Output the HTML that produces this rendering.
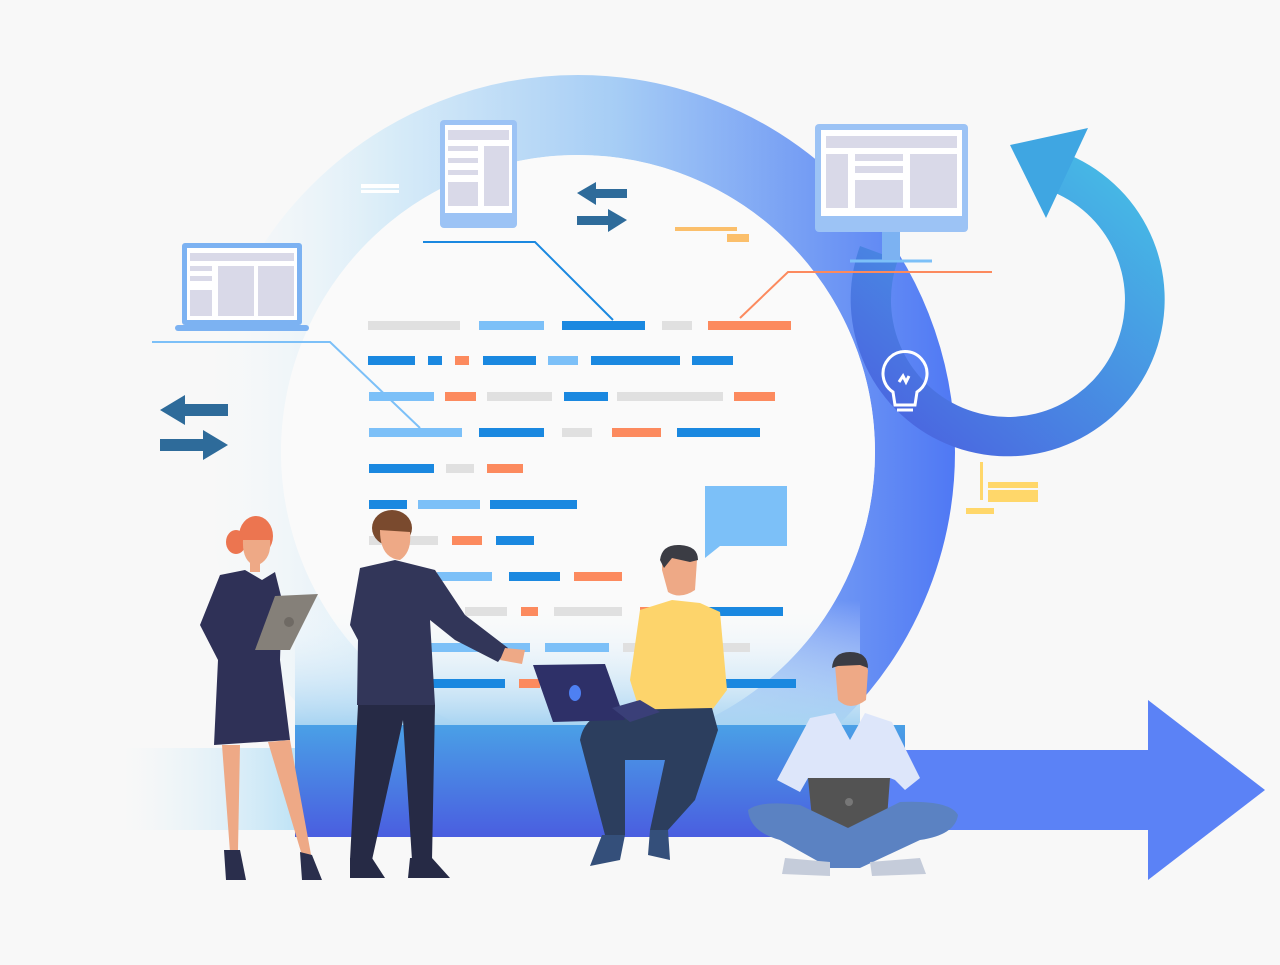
<!DOCTYPE html>
<html><head><meta charset="utf-8"><style>html,body{margin:0;padding:0;background:#f8f8f8}svg{display:block}</style></head>
<body>
<svg width="1280" height="965" viewBox="0 0 1280 965" xmlns="http://www.w3.org/2000/svg">
<defs>
<linearGradient id="ring" x1="200" y1="0" x2="956" y2="0" gradientUnits="userSpaceOnUse">
<stop offset="0" stop-color="#f3f9fc" stop-opacity="0"/>
<stop offset="0.25" stop-color="#d8ecf8"/>
<stop offset="0.55" stop-color="#a6cdf5"/>
<stop offset="1" stop-color="#4f78f4"/>
</linearGradient>
<linearGradient id="loop" x1="900" y1="450" x2="1150" y2="150" gradientUnits="userSpaceOnUse">
<stop offset="0" stop-color="#4b62e0"/><stop offset="1" stop-color="#45c3e6"/>
</linearGradient>
<linearGradient id="bar" x1="0" y1="725" x2="0" y2="837" gradientUnits="userSpaceOnUse">
<stop offset="0" stop-color="#4aa0e6"/><stop offset="1" stop-color="#4a5ee0"/>
</linearGradient>
<linearGradient id="left" x1="120" y1="0" x2="295" y2="0" gradientUnits="userSpaceOnUse">
<stop offset="0" stop-color="#e8f4fb" stop-opacity="0"/><stop offset="1" stop-color="#bfe3f6"/>
</linearGradient>
<linearGradient id="fade" x1="0" y1="600" x2="0" y2="725" gradientUnits="userSpaceOnUse">
<stop offset="0" stop-color="#ffffff" stop-opacity="0"/><stop offset="1" stop-color="#a8d4f2"/>
</linearGradient>
</defs>
<rect width="1280" height="965" fill="#f8f8f8"/>
<circle cx="578" cy="452" r="337" fill="none" stroke="url(#ring)" stroke-width="80"/>
<circle cx="578" cy="452" r="297" fill="#fafafa"/>
<path d="M860 246 A157 157 0 1 0 1062 152 L1048 190 A117 117 0 1 1 898 260 Z" fill="url(#loop)"/>
<polygon points="1010,145 1088,128 1046,218" fill="#3fa6e2"/>
<rect x="120" y="748" width="178" height="82" fill="url(#left)"/>
<path d="M295 600 H860 L860 725 H295 Z" fill="url(#fade)"/>
<rect x="295" y="725" width="610" height="112" fill="url(#bar)"/>
<rect x="880" y="750" width="272" height="80" fill="#5b82f6"/>
<polygon points="1148,700 1265,790 1148,880" fill="#5b82f6"/>
<polyline points="152,342 330,342 420,428" fill="none" stroke="#7cc0f8" stroke-width="2"/>
<polyline points="423,242 535,242 613,320" fill="none" stroke="#1a88e0" stroke-width="2"/>
<polyline points="740,318 788,272 992,272" fill="none" stroke="#fc8a5e" stroke-width="2"/>
<line x1="850" y1="261" x2="932" y2="261" stroke="#7cc0f8" stroke-width="3"/>
<g>
<rect x="368" y="321" width="92" height="9" fill="#e0e0e0"/><rect x="479" y="321" width="65" height="9" fill="#7cc0f8"/><rect x="562" y="321" width="83" height="9" fill="#1a88e0"/><rect x="662" y="321" width="30" height="9" fill="#e0e0e0"/><rect x="708" y="321" width="83" height="9" fill="#fc8a5e"/>
<rect x="368" y="356" width="47" height="9" fill="#1a88e0"/><rect x="428" y="356" width="14" height="9" fill="#1a88e0"/><rect x="455" y="356" width="14" height="9" fill="#fc8a5e"/><rect x="483" y="356" width="53" height="9" fill="#1a88e0"/><rect x="548" y="356" width="30" height="9" fill="#7cc0f8"/><rect x="591" y="356" width="89" height="9" fill="#1a88e0"/><rect x="692" y="356" width="41" height="9" fill="#1a88e0"/>
<rect x="369" y="392" width="65" height="9" fill="#7cc0f8"/><rect x="445" y="392" width="31" height="9" fill="#fc8a5e"/><rect x="487" y="392" width="65" height="9" fill="#e0e0e0"/><rect x="564" y="392" width="44" height="9" fill="#1a88e0"/><rect x="617" y="392" width="106" height="9" fill="#e0e0e0"/><rect x="734" y="392" width="41" height="9" fill="#fc8a5e"/>
<rect x="369" y="428" width="93" height="9" fill="#7cc0f8"/><rect x="479" y="428" width="65" height="9" fill="#1a88e0"/><rect x="562" y="428" width="30" height="9" fill="#e0e0e0"/><rect x="612" y="428" width="49" height="9" fill="#fc8a5e"/><rect x="677" y="428" width="83" height="9" fill="#1a88e0"/>
<rect x="369" y="464" width="65" height="9" fill="#1a88e0"/><rect x="446" y="464" width="28" height="9" fill="#e0e0e0"/><rect x="487" y="464" width="36" height="9" fill="#fc8a5e"/>
<rect x="369" y="500" width="38" height="9" fill="#1a88e0"/><rect x="418" y="500" width="62" height="9" fill="#7cc0f8"/><rect x="490" y="500" width="87" height="9" fill="#1a88e0"/>
<rect x="369" y="536" width="69" height="9" fill="#e0e0e0"/><rect x="452" y="536" width="30" height="9" fill="#fc8a5e"/><rect x="496" y="536" width="38" height="9" fill="#1a88e0"/>
<rect x="437" y="572" width="55" height="9" fill="#7cc0f8"/><rect x="509" y="572" width="51" height="9" fill="#1a88e0"/><rect x="574" y="572" width="48" height="9" fill="#fc8a5e"/>
<rect x="465" y="607" width="42" height="9" fill="#e0e0e0"/><rect x="521" y="607" width="17" height="9" fill="#fc8a5e"/><rect x="554" y="607" width="68" height="9" fill="#e0e0e0"/><rect x="640" y="607" width="20" height="9" fill="#fc8a5e"/><rect x="700" y="607" width="83" height="9" fill="#1a88e0"/>
<rect x="430" y="643" width="100" height="9" fill="#7cc0f8"/><rect x="545" y="643" width="64" height="9" fill="#7cc0f8"/><rect x="623" y="643" width="127" height="9" fill="#e0e0e0"/>
<rect x="430" y="679" width="75" height="9" fill="#1a88e0"/><rect x="519" y="679" width="21" height="9" fill="#fc8a5e"/><rect x="725" y="679" width="71" height="9" fill="#1a88e0"/>
</g>
<rect x="361" y="184" width="38" height="4" fill="#fff"/><rect x="361" y="190" width="38" height="3" fill="#fff"/>
<rect x="675" y="227" width="62" height="4" fill="#fbbf6b"/><rect x="727" y="234" width="22" height="8" fill="#fbbf6b"/>
<rect x="980" y="462" width="3" height="38" fill="#ffd76a"/><rect x="988" y="482" width="50" height="6" fill="#ffd76a"/><rect x="988" y="490" width="50" height="12" fill="#ffd76a"/><rect x="966" y="508" width="28" height="6" fill="#ffd76a"/>
<g fill="#2e6b9a">
<polygon points="160,410 185,395 185,404 228,404 228,416 185,416 185,425"/>
<polygon points="228,445 203,430 203,439 160,439 160,451 203,451 203,460"/>
<polygon points="577,193 596,182 596,189 627,189 627,198 596,198 596,205"/>
<polygon points="627,220 608,209 608,216 577,216 577,225 608,225 608,232"/>
</g>
<path d="M705 486 H787 V546 H720 L705 558 Z" fill="#7cc0f8"/>
<g fill="none" stroke="#fff" stroke-width="3">
<path d="M893 392 A22 22 0 1 1 917 392 L915 405 H895 Z"/>
<path d="M897 410 H913 M899 382 L903 376 L906 382 L909 376"/>
</g>
<rect x="182" y="243" width="120" height="82" rx="3" fill="#7cb2f2"/>
<rect x="187" y="248" width="110" height="72" fill="#fff"/>
<rect x="190" y="253" width="104" height="8" fill="#d9d9e8"/>
<rect x="218" y="266" width="36" height="50" fill="#d9d9e8"/><rect x="258" y="266" width="36" height="50" fill="#d9d9e8"/>
<rect x="190" y="266" width="22" height="5" fill="#d9d9e8"/><rect x="190" y="276" width="22" height="5" fill="#d9d9e8"/><rect x="190" y="290" width="22" height="26" fill="#d9d9e8"/>
<rect x="175" y="325" width="134" height="6" rx="3" fill="#7cb2f2"/>
<rect x="440" y="120" width="77" height="108" rx="4" fill="#9cc3f5"/>
<rect x="445" y="125" width="67" height="88" fill="#fff"/>
<rect x="448" y="130" width="61" height="10" fill="#d9d9e8"/>
<rect x="448" y="146" width="30" height="5" fill="#d9d9e8"/><rect x="448" y="158" width="30" height="5" fill="#d9d9e8"/><rect x="448" y="170" width="30" height="5" fill="#d9d9e8"/><rect x="448" y="182" width="30" height="24" fill="#d9d9e8"/>
<rect x="484" y="146" width="25" height="60" fill="#d9d9e8"/>
<rect x="882" y="228" width="18" height="32" fill="#7cb2f2"/>
<rect x="815" y="124" width="153" height="108" rx="4" fill="#9cc3f5"/>
<rect x="821" y="130" width="141" height="86" fill="#fff"/>
<rect x="826" y="136" width="131" height="12" fill="#d9d9e8"/>
<rect x="826" y="154" width="22" height="54" fill="#d9d9e8"/><rect x="855" y="154" width="48" height="7" fill="#d9d9e8"/><rect x="855" y="166" width="48" height="7" fill="#d9d9e8"/><rect x="855" y="180" width="48" height="28" fill="#d9d9e8"/><rect x="910" y="154" width="47" height="54" fill="#d9d9e8"/>
<g>
<ellipse cx="236" cy="542" rx="10" ry="12" fill="#ec7550"/>
<ellipse cx="256" cy="536" rx="17" ry="20" fill="#ec7550"/>
<path d="M243 540 Q242 562 256 566 Q272 560 270 540 Z" fill="#eea986"/>
<rect x="250" y="560" width="10" height="12" fill="#eea986"/>
<path d="M220 575 L245 570 L262 580 L275 572 L282 600 L280 660 L290 740 L214 745 L218 660 L200 625 Z" fill="#2f3157"/>
<path d="M222 745 L240 745 L238 850 L230 852 Z M268 742 L290 740 L312 860 L304 862 Z" fill="#eea986"/>
<path d="M224 850 L240 850 L246 880 L226 880 Z M300 852 L312 855 L322 880 L302 880 Z" fill="#2a2e4c"/>
<path d="M275 596 L318 594 L290 650 L255 650 Z" fill="#858079"/>
<circle cx="289" cy="622" r="5" fill="#6f6a64"/>
</g>
<g>
<ellipse cx="392" cy="528" rx="20" ry="18" fill="#7a4a2e"/>
<path d="M380 530 Q380 558 400 560 Q412 552 410 532 Z" fill="#eea986"/>
<path d="M360 568 L395 560 L435 570 L465 615 L508 648 L498 662 L455 640 L430 620 L435 705 L357 705 L358 640 L350 625 Z" fill="#323659"/>
<path d="M505 648 L525 650 L522 664 L500 660 Z" fill="#eea986"/>
<path d="M358 705 L435 705 L432 860 L412 860 L403 720 L372 860 L350 860 Z" fill="#262a45"/>
<path d="M350 858 L372 858 L385 878 L350 878 Z M410 858 L432 858 L450 878 L408 878 Z" fill="#262a45"/>
</g>
<g>
<path d="M662 555 Q670 545 690 548 L697 560 L695 590 Q680 600 668 592 L662 570 Z" fill="#eea986"/>
<path d="M660 560 Q662 544 680 545 Q698 546 698 560 L690 562 L672 558 L664 568 Z" fill="#3b3c44"/>
<path d="M640 610 L672 600 L700 603 L720 612 L727 690 L712 710 L640 712 L630 680 Z" fill="#fdd46b"/>
<path d="M580 740 Q585 712 620 710 L712 708 L718 730 L695 800 L668 830 L650 830 L665 760 L625 760 L625 835 L605 835 Z" fill="#2c3e5e"/>
<path d="M602 835 L625 835 L620 860 L590 866 Z M650 830 L668 830 L670 860 L648 855 Z" fill="#344f7a"/>
<path d="M533 665 L605 664 L625 720 L553 722 Z" fill="#2e3068"/>
<ellipse cx="575" cy="693" rx="6" ry="8" fill="#4e80f2"/>
<path d="M612 708 L640 700 L660 712 L630 722 Z" fill="#3a3f78"/>
</g>
<g>
<path d="M835 665 Q845 652 862 656 L868 670 L866 700 Q850 712 838 700 Z" fill="#eea986"/>
<path d="M832 668 Q833 652 850 652 Q868 652 868 668 L860 665 L838 666 Z" fill="#3b3c44"/>
<path d="M810 718 L835 713 L850 740 L865 713 L892 722 L920 778 L905 790 L895 780 L890 778 L808 778 L800 792 L777 780 Z" fill="#dde6fa"/>
<path d="M808 778 L890 778 L887 818 L848 828 L812 818 Z" fill="#535353"/>
<circle cx="849" cy="802" r="4" fill="#777"/>
<path d="M748 810 Q760 800 800 805 L848 828 L900 802 Q950 800 958 815 Q955 835 920 840 L860 868 L830 868 L780 840 Q750 832 748 810 Z" fill="#5b82c2"/>
<path d="M785 858 L830 862 L830 876 L782 874 Z M870 862 L920 858 L926 874 L872 876 Z" fill="#c5ccda"/>
</g>
</svg>
</body></html>
